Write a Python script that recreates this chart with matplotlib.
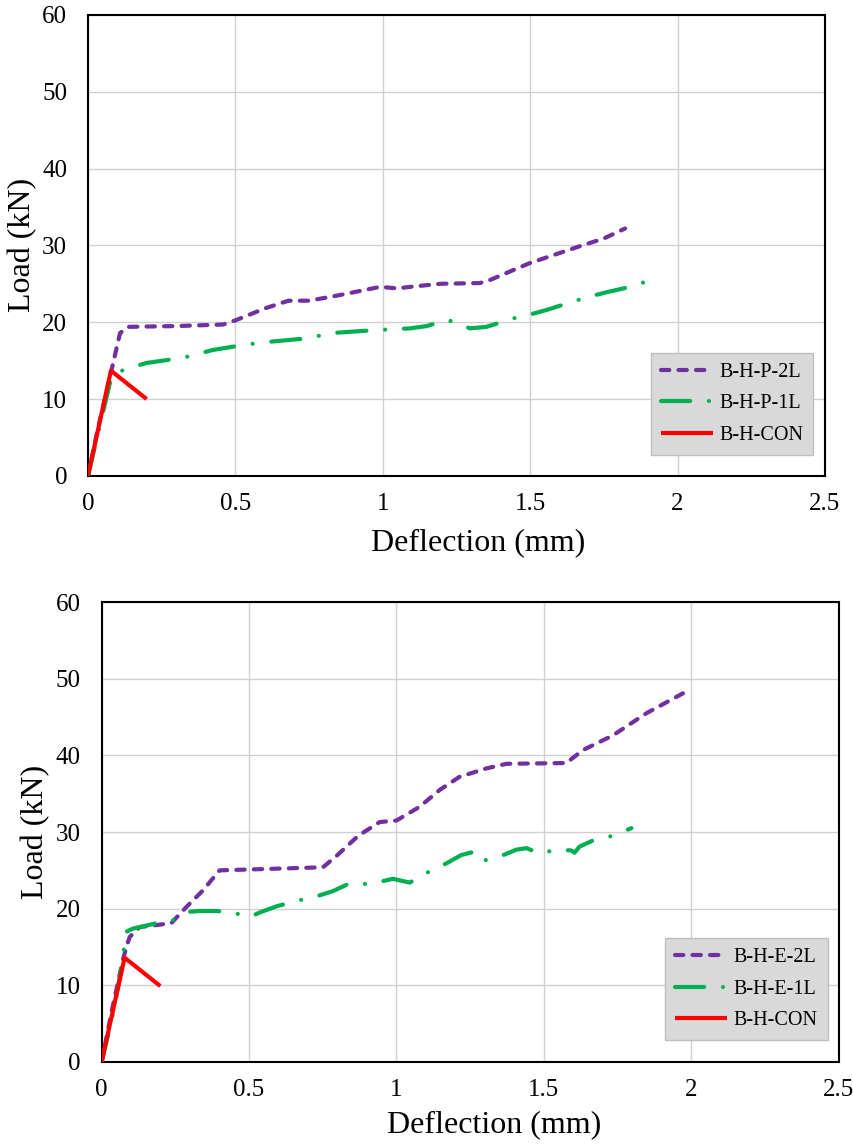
import matplotlib
matplotlib.use("Agg")
import matplotlib.pyplot as plt
from matplotlib.ticker import FuncFormatter

plt.rcParams["font.family"] = ["Liberation Serif", "DejaVu Serif"]

# top chart: B-H-P series
p2l_x = [0, 0.033, 0.08, 0.109, 0.137, 0.30, 0.458, 0.504, 0.60, 0.68, 0.75, 0.85, 0.991,
         1.05, 1.092, 1.194, 1.33, 1.364, 1.499, 1.669, 1.75, 1.822]
p2l_y = [0, 6.0, 13.8, 18.6, 19.4, 19.5, 19.7, 20.3, 21.8, 22.8, 22.8, 23.5, 24.6,
         24.4, 24.6, 25.0, 25.1, 25.5, 27.7, 29.9, 30.9, 32.2]

p1l_x = [0, 0.04, 0.08, 0.126, 0.199, 0.272, 0.335, 0.425, 0.538, 0.628, 0.742, 0.831, 0.945,
         0.991, 1.092, 1.149, 1.217, 1.245, 1.296, 1.352, 1.443, 1.499, 1.556, 1.646,
         1.697, 1.759, 1.85, 1.90]
p1l_y = [0, 6.5, 13.0, 13.9, 14.7, 15.1, 15.5, 16.4, 17.1, 17.5, 17.9, 18.6, 18.9,
         19.0, 19.2, 19.5, 20.3, 20.0, 19.2, 19.4, 20.5, 21.0, 21.6, 22.7,
         23.3, 23.9, 24.7, 25.4]

con_x = [0, 0.078, 0.199]
con_top_y = [0, 13.7, 10.0]

# bottom chart: B-H-E series
e2l_x = [0, 0.033, 0.072, 0.084, 0.095, 0.129, 0.236, 0.287, 0.344, 0.40, 0.751, 0.80,
         0.87, 0.943, 1.0, 1.079, 1.147, 1.214, 1.305, 1.373, 1.576, 1.633, 1.734,
         1.848, 1.972]
e2l_y = [0, 6.4, 13.3, 15.0, 16.3, 17.6, 18.1, 20.2, 22.4, 25.0, 25.4, 27.0,
         29.5, 31.3, 31.5, 33.3, 35.5, 37.2, 38.3, 38.9, 39.0, 40.7, 42.6,
         45.5, 48.1]

e1l_x = [0, 0.04, 0.072, 0.078, 0.084, 0.106, 0.186, 0.242, 0.299, 0.332, 0.389, 0.445,
         0.502, 0.536, 0.593, 0.649, 0.728, 0.785, 0.841, 0.886, 0.932, 0.988, 1.045,
         1.118, 1.169, 1.22, 1.271, 1.299, 1.35, 1.407, 1.441, 1.486, 1.542, 1.593,
         1.604, 1.621, 1.667, 1.723, 1.797]
e1l_y = [0, 6.5, 13.3, 15.9, 17.0, 17.4, 18.1, 18.5, 19.6, 19.7, 19.7, 19.5,
         18.9, 19.5, 20.3, 20.9, 21.6, 22.3, 23.3, 23.2, 23.4, 23.9, 23.4,
         25.0, 25.9, 27.0, 27.5, 26.3, 26.8, 27.7, 27.9, 27.2, 27.7, 27.6,
         27.3, 28.1, 28.9, 29.4, 30.5]

con_bot_y = [0, 13.6, 9.9]

x_ticks = [0, 0.5, 1, 1.5, 2, 2.5]
y_ticks = [0, 10, 20, 30, 40, 50, 60]

purple = "#7030A0"
green = "#00B050"
red = "#FF0000"


def style_axes(ax, xlab_pos, ylab_pos):
    ax.set_xlim(0, 2.5)
    ax.set_ylim(0, 60)
    ax.set_xticks(x_ticks)
    ax.set_yticks(y_ticks)
    ax.xaxis.set_major_formatter(FuncFormatter(lambda v, p: f"{v:g}"))
    ax.grid(True, color="#D0D0D0", linewidth=1.0)
    ax.set_axisbelow(True)
    ax.tick_params(length=0, labelsize=18)
    ax.tick_params(axis="x", pad=12)
    ax.tick_params(axis="y", pad=15)
    for s in ax.spines.values():
        s.set_linewidth(1.5)
        s.set_color("black")
    ax.set_xlabel("Deflection (mm)", fontsize=23)
    ax.set_ylabel("Load (kN)", fontsize=23)
    ax.xaxis.label.set_va("center")
    ax.yaxis.label.set_va("center")
    ax.xaxis.set_label_coords(*xlab_pos)
    ax.yaxis.set_label_coords(*ylab_pos)


def draw(ax, x2, y2, lab2, x1, y1, lab1, ycon, leg_anchor):
    ax.plot(x2, y2, color=purple, linewidth=3.0, linestyle=(0, (2.0, 2.2)),
            dash_capstyle="round", solid_capstyle="round", label=lab2, zorder=3)
    ax.plot(x1, y1, color=green, linewidth=3.0, linestyle=(0, (7, 4.5, 0.01, 4.5)),
            dash_capstyle="round", label=lab1, zorder=3)
    ax.plot(con_x, ycon, color=red, linewidth=3.0, solid_capstyle="butt",
            label="B-H-CON", zorder=4)
    leg = ax.legend(loc="lower right", bbox_to_anchor=leg_anchor, fontsize=14.5,
                    handlelength=2.6, fancybox=False, framealpha=1,
                    facecolor="#D9D9D9", edgecolor="#BFBFBF", borderpad=0.5,
                    labelspacing=0.6, handletextpad=0.3, borderaxespad=0)
    leg.get_frame().set_linewidth(1.0)


fig = plt.figure(figsize=(8.54, 11.44), dpi=100)
ax1 = fig.add_axes([0.103, 0.584, 0.863, 0.403])
ax2 = fig.add_axes([0.119, 0.0717, 0.863, 0.402])

draw(ax1, p2l_x, p2l_y, "B-H-P-2L", p1l_x, p1l_y, "B-H-P-1L", con_top_y, (0.984, 0.046))
draw(ax2, e2l_x, e2l_y, "B-H-E-2L", e1l_x, e1l_y, "B-H-E-1L", con_bot_y, (0.985, 0.048))

style_axes(ax1, (0.529, -0.145), (-0.089, 0.5))
style_axes(ax2, (0.532, -0.137), (-0.089, 0.5))

fig.savefig("out.png", dpi=100)
